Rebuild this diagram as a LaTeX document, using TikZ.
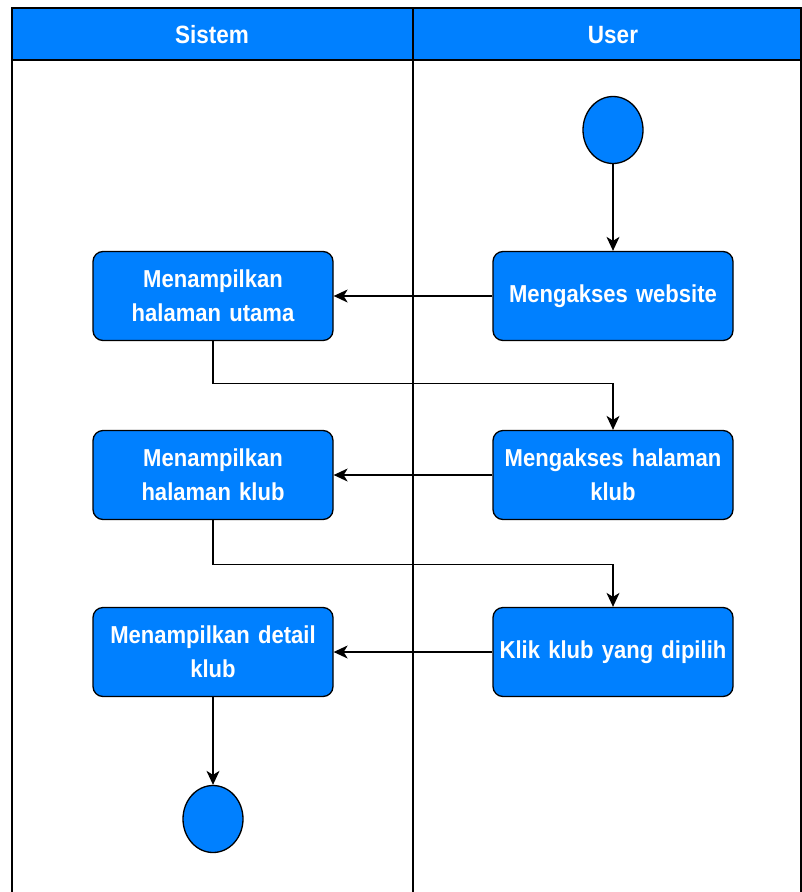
\documentclass[tikz,border=0pt]{standalone}
\usepackage{fontspec}
\setmainfont{Liberation Sans}[FakeStretch=0.9,WordSpace=0.7]
\usetikzlibrary{arrows.meta,shapes.geometric}
\definecolor{fillblue}{HTML}{0080FF}
\begin{document}
\begin{tikzpicture}[x=1pt,y=-1pt,
  box/.style={draw=black, fill=fillblue, rounded corners=10pt, minimum width=240pt, minimum height=89pt, text width=236pt, align=center, inner sep=0pt, font=\fontsize{24.5}{34}\selectfont\bfseries, text=white, line width=1.3pt},
  dot/.style={draw=black, fill=fillblue, ellipse, minimum width=60pt, minimum height=67pt, inner sep=0pt, line width=1.3pt},
  head/.style={font=\fontsize{25}{28}\selectfont\bfseries, text=white},
  conn/.style={line width=1.3pt, -{Stealth[length=14pt,width=13pt,inset=4pt]}}
]
\useasboundingbox (0,0) rectangle (802,892);
% pool
\fill[fillblue] (12,8) rectangle (801,60);
\draw[line width=1.3pt] (12,892) -- (12,8) -- (801,8) -- (801,892);
\draw[line width=1.3pt] (12,60) -- (801,60);
\draw[line width=1.3pt] (413,8) -- (413,892);
\node[head] (hsis) at (212,35) {Sistem};
\node[head] (husr) at (613,35) {User};
% nodes
\node[dot] (start) at (613,130) {};
\node[box] (u1) at (613,296) {Mengakses website};
\node[box] (s1) at (213,296) {Menampilkan\\halaman utama};
\node[box] (u2) at (613,475) {Mengakses halaman\\klub};
\node[box] (s2) at (213,475) {Menampilkan\\halaman klub};
\node[box] (u3) at (613,652) {Klik klub yang dipilih};
\node[box] (s3) at (213,652) {Menampilkan detail\\klub};
\node[dot] (end) at (213,819) {};
% connectors
\draw[conn] (start) -- (u1);
\draw[conn] (u1) -- (s1);
\draw[conn] (s1.south) -- ++(0,42) -| (u2.north);
\draw[conn] (u2) -- (s2);
\draw[conn] (s2.south) -- ++(0,44) -| (u3.north);
\draw[conn] (u3) -- (s3);
\draw[conn] (s3) -- (end);
\end{tikzpicture}
\end{document}
